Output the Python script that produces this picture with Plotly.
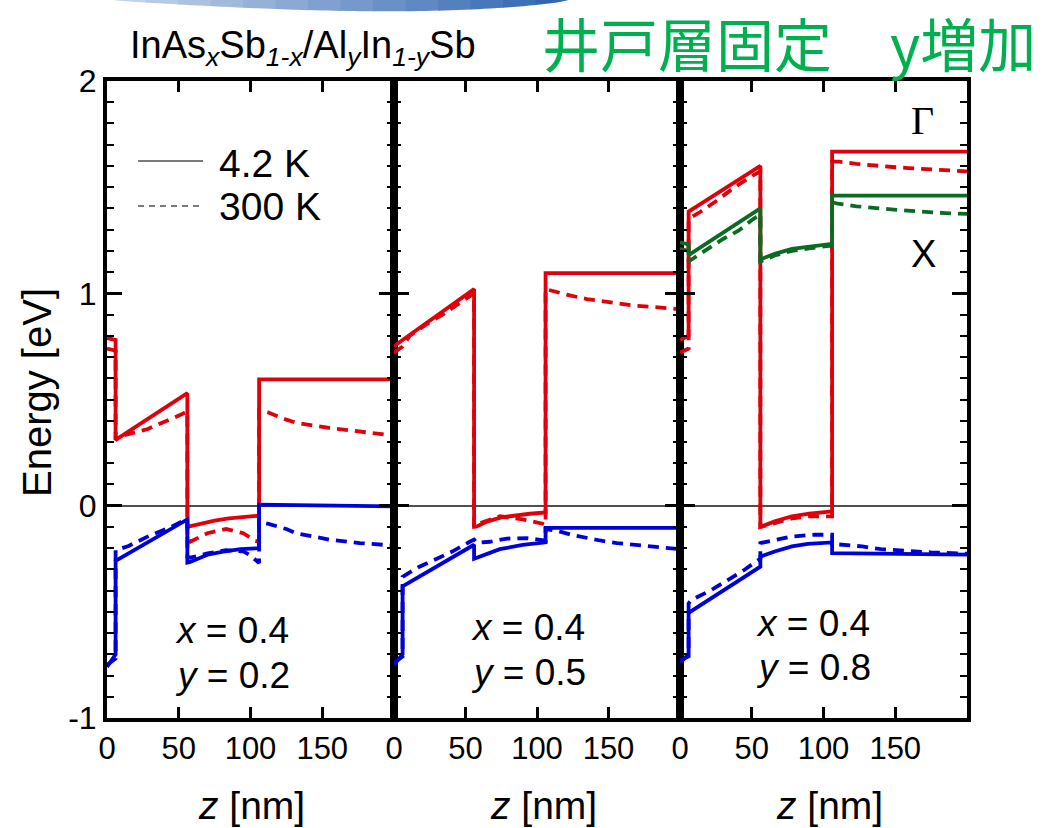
import math
import plotly.graph_objects as go

# ---------------- data (z in nm, energy in eV) ----------------
panel_labels_x = ["0.4", "0.4", "0.4"]
panel_labels_y = ["0.2", "0.5", "0.8"]
x_tick_vals = [0, 50, 100, 150, 200]
x_tick_text = ["0", "50", "100", "150", ""]
y_tick_vals = [-1, 0, 1, 2]
y_tick_text = ["-1", "0", "1", "2"]

# panel 1 : y = 0.2
p1_cb_42_z = [0, 6, 6, 56, 56, 58, 65, 75, 85, 95, 106, 106, 200]
p1_cb_42_E = [0.79, 0.78, 0.31, 0.53, -0.10, -0.097, -0.085, -0.07, -0.06, -0.053, -0.047, 0.595, 0.595]
p1_cb_300_z = [0, 6, 6, 11, 28, 42, 52, 56, 56, 58, 70, 83, 95, 103, 106, 106, 112, 125, 132, 155, 176, 200]
p1_cb_300_E = [0.74, 0.73, 0.31, 0.33, 0.36, 0.40, 0.43, 0.445, -0.16, -0.17, -0.13, -0.11, -0.13, -0.165, -0.17,
               0.45, 0.44, 0.405, 0.39, 0.366, 0.35, 0.33]
p1_vb_42_z = [0, 6, 6, 56, 56, 58, 70, 81, 93, 105, 106, 106, 200]
p1_vb_42_E = [-0.76, -0.70, -0.26, -0.065, -0.268, -0.265, -0.231, -0.216, -0.205, -0.20, -0.20, 0.005, -0.003]
p1_vb_300_z = [0, 6, 6, 15, 30, 45, 56, 56, 58, 70, 83, 95, 100, 104, 106, 106, 112, 125, 132, 155, 176, 200]
p1_vb_300_E = [-0.75, -0.72, -0.21, -0.19, -0.14, -0.10, -0.06, -0.24, -0.245, -0.225, -0.21, -0.215, -0.235, -0.26,
               -0.27, -0.08, -0.085, -0.11, -0.13, -0.16, -0.176, -0.188]

# panel 2 : y = 0.5
p2_cb_42_z = [0, 6, 56, 56, 58, 65, 75, 85, 95, 106, 106, 200]
p2_cb_42_E = [0.75, 0.78, 1.02, -0.10, -0.098, -0.075, -0.055, -0.045, -0.038, -0.032, 1.095, 1.095]
p2_cb_300_z = [0, 6, 11, 24, 34, 45, 54, 56, 56, 61, 74, 90, 104, 106, 106, 111, 123, 135, 146, 157, 168, 179, 200]
p2_cb_300_E = [0.72, 0.75, 0.80, 0.86, 0.90, 0.95, 0.995, 1.0, -0.10, -0.08, -0.05, -0.065, -0.085, -0.09,
               1.02, 1.01, 0.99, 0.973, 0.962, 0.953, 0.942, 0.937, 0.925]
p2_vb_42_z = [0, 6, 6, 56, 56, 58, 74, 90, 106, 106, 200]
p2_vb_42_E = [-0.75, -0.70, -0.38, -0.184, -0.25, -0.245, -0.205, -0.185, -0.173, -0.105, -0.105]
p2_vb_300_z = [0, 6, 6, 17, 30, 41, 53, 56, 58, 67, 79, 93, 101, 106, 106, 115, 124, 135, 144, 156, 167, 179, 200]
p2_vb_300_E = [-0.74, -0.71, -0.335, -0.29, -0.25, -0.215, -0.17, -0.16, -0.175, -0.17, -0.155, -0.153, -0.16,
               -0.165, -0.11, -0.12, -0.137, -0.153, -0.164, -0.176, -0.184, -0.192, -0.205]

# panel 3 : y = 0.8
p3_cb_42_z = [0, 6, 6, 56, 56, 57, 66, 78, 90, 106, 106, 200]
p3_cb_42_E = [0.78, 0.80, 1.385, 1.60, -0.10, -0.098, -0.074, -0.05, -0.038, -0.027, 1.667, 1.667]
p3_cb_300_z = [0, 6, 6, 14, 26, 38, 51, 56, 56, 66, 78, 90, 100, 106, 106, 111, 123, 136, 148, 159, 172, 185, 200]
p3_cb_300_E = [0.72, 0.74, 1.35, 1.383, 1.438, 1.50, 1.556, 1.575, -0.10, -0.08, -0.06, -0.05, -0.048, -0.05,
               1.62, 1.62, 1.61, 1.60, 1.595, 1.59, 1.584, 1.579, 1.574]
p3_xv_42_z = [0, 6, 6, 56, 56, 66, 78, 90, 106, 106, 200]
p3_xv_42_E = [1.24, 1.23, 1.18, 1.40, 1.16, 1.186, 1.209, 1.22, 1.233, 1.46, 1.46]
p3_xv_300_z = [0, 6, 6, 20, 30, 41, 51, 56, 56, 66, 78, 90, 106, 106, 110, 123, 136, 149, 161, 173, 185, 200]
p3_xv_300_E = [1.21, 1.20, 1.15, 1.209, 1.256, 1.296, 1.35, 1.37, 1.15, 1.178, 1.20, 1.212, 1.225,
               1.43, 1.422, 1.41, 1.40, 1.394, 1.388, 1.381, 1.378, 1.374]
p3_vb_42_z = [0, 6, 6, 56, 56, 66, 78, 89, 106, 106, 200]
p3_vb_42_E = [-0.74, -0.70, -0.505, -0.287, -0.24, -0.216, -0.192, -0.18, -0.173, -0.224, -0.231]
p3_vb_300_z = [0, 6, 6, 8, 22, 34, 45, 53, 56, 56, 66, 78, 94, 103, 106, 106, 114, 127, 140, 159, 175, 200]
p3_vb_300_E = [-0.73, -0.71, -0.46, -0.444, -0.397, -0.35, -0.302, -0.263, -0.25, -0.176, -0.16, -0.145, -0.137,
               -0.137, -0.137, -0.18, -0.184, -0.192, -0.205, -0.215, -0.22, -0.226]

# ---------------- style ----------------
W, H = 1062, 828
RED = "#E0000B"
BLUE = "#0000D8"
GREEN = "#0B6B22"
FONT = "Liberation Sans, Arial, sans-serif"
DASH = "11px,7px"
LW = 3.8


def px(x):
    return x / W


def py(y):
    return 1 - y / H


PANEL_X = [(107, 394), (394, 680), (680, 967)]
PANEL_TOP, PANEL_BOT = 81, 718

panels = [
    [(p1_cb_42_z, p1_cb_42_E, RED, "solid"), (p1_cb_300_z, p1_cb_300_E, RED, DASH),
     (p1_vb_42_z, p1_vb_42_E, BLUE, "solid"), (p1_vb_300_z, p1_vb_300_E, BLUE, DASH)],
    [(p2_cb_42_z, p2_cb_42_E, RED, "solid"), (p2_cb_300_z, p2_cb_300_E, RED, DASH),
     (p2_vb_42_z, p2_vb_42_E, BLUE, "solid"), (p2_vb_300_z, p2_vb_300_E, BLUE, DASH)],
    [(p3_cb_42_z, p3_cb_42_E, RED, "solid"), (p3_cb_300_z, p3_cb_300_E, RED, DASH),
     (p3_xv_42_z, p3_xv_42_E, GREEN, "solid"), (p3_xv_300_z, p3_xv_300_E, GREEN, DASH),
     (p3_vb_42_z, p3_vb_42_E, BLUE, "solid"), (p3_vb_300_z, p3_vb_300_E, BLUE, DASH)],
]

fig = go.Figure()
for i, curves in enumerate(panels):
    suffix = "" if i == 0 else str(i + 1)
    for z, e, col, dash in curves:
        fig.add_trace(go.Scatter(x=z, y=e, mode="lines", xaxis="x" + suffix, yaxis="y" + suffix,
                                 line=dict(color=col, width=LW, dash=dash), showlegend=False,
                                 hoverinfo="skip"))

layout = dict(width=W, height=H, autosize=False, template="none",
              margin=dict(l=0, r=0, t=0, b=0, pad=0, autoexpand=False), paper_bgcolor="white",
              plot_bgcolor="white", showlegend=False, font=dict(family=FONT, color="black"))
for i, (x0, x1) in enumerate(PANEL_X):
    suffix = "" if i == 0 else str(i + 1)
    layout["xaxis" + suffix] = dict(
        domain=[px(x0), px(x1)], anchor="y" + suffix, range=[0, 200], automargin=False,
        tickmode="array", tickvals=x_tick_vals, ticktext=x_tick_text,
        ticks="inside", ticklen=11, tickwidth=2.5, tickcolor="black",
        showline=True, linewidth=4, linecolor="black", mirror="ticks",
        showgrid=False, zeroline=False, tickfont=dict(size=31, family=FONT, color="black"))
    layout["yaxis" + suffix] = dict(
        domain=[py(PANEL_BOT), py(PANEL_TOP)], anchor="x" + suffix, range=[-1, 2], automargin=False,
        tickmode="array", tickvals=y_tick_vals, ticktext=y_tick_text,
        ticks="inside", ticklen=15, tickwidth=2.5, tickcolor="black",
        minor=dict(tickmode="linear", tick0=0, dtick=0.1, ticks="inside", ticklen=7,
                   tickwidth=2, tickcolor="black"),
        showline=True, linewidth=4, linecolor="black", mirror="ticks",
        showgrid=False, zeroline=True, zerolinecolor="#505050", zerolinewidth=1.5,
        showticklabels=(i == 0), tickfont=dict(size=32, family=FONT, color="black"))


def note(x, y, text, size, xanchor="center", family=FONT, color="black", angle=0):
    return dict(x=px(x), y=py(y), xref="paper", yref="paper", text=text, showarrow=False,
                xanchor=xanchor, yanchor="middle", textangle=angle,
                font=dict(size=size, family=family, color=color))


annotations = []
# axis titles
annotations.append(note(37, 393, "Energy [eV]", 40, angle=-90))
for cx in (251, 543, 829):
    annotations.append(note(cx, 805, "<i>z</i> [nm]", 39))
# panel labels
for cx, yx, yy, lx, ly in zip((232, 528, 813), (630, 627, 623), (675, 672, 667), panel_labels_x, panel_labels_y):
    annotations.append(note(cx, yx, "<i>x</i> = " + lx, 37))
    annotations.append(note(cx, yy, "<i>y</i> = " + ly, 37))
# Gamma / X
annotations.append(note(922, 121, "Γ", 40, family="Liberation Serif, Times New Roman, serif"))
annotations.append(note(923, 254, "X", 38))
# legend texts
annotations.append(note(217, 163, "4.2 K", 39, xanchor="left"))
annotations.append(note(217, 206, "300 K", 39, xanchor="left"))
# titles
annotations.append(note(303, 48,
                        "InAs<sub><i>x</i></sub>Sb<sub><i>1-x</i></sub>/Al<sub><i>y</i></sub>In<sub><i>1-y</i></sub>Sb",
                        38))
annotations.append(note(540, 42, "井戸層固定\u3000y増加", 58, xanchor="left",
                        family="Noto Sans CJK JP", color="#00B050"))
layout["annotations"] = annotations

shapes = [
    dict(type="line", xref="paper", yref="paper", x0=px(138), x1=px(203), y0=py(161), y1=py(161),
         line=dict(color="#7a7a7a", width=2)),
    dict(type="line", xref="paper", yref="paper", x0=px(138), x1=px(203), y0=py(206), y1=py(206),
         line=dict(color="#7a7a7a", width=2, dash="6px,5px")),
]

# decorative slide banner at the very top (light-to-dark blue swoosh)
BAN_X0, BAN_X1, BAN_DEPTH, NSLICE = 113, 568, 15, 14
c_left, c_right = (200, 214, 234), (45, 100, 175)


def depth(xx):
    s = (xx - BAN_X0) / (BAN_X1 - BAN_X0)
    s = min(max(s, 0.0), 1.0)
    return BAN_DEPTH * (math.sin(math.pi * s) ** 0.7) * (0.45 + 0.55 * s)


for k in range(NSLICE):
    xa = BAN_X0 + (BAN_X1 - BAN_X0) * k / NSLICE
    xb = BAN_X0 + (BAN_X1 - BAN_X0) * (k + 1) / NSLICE + 0.8
    t = (k + 0.5) / NSLICE
    col = "rgb(%d,%d,%d)" % tuple(round(a + (b - a) * t) for a, b in zip(c_left, c_right))
    pts = [(xa, 0)]
    for j in range(6):
        xx = xa + (xb - xa) * j / 5
        pts.append((xx, depth(xx)))
    pts.append((xb, 0))
    path = "M " + " L ".join(f"{px(a):.5f},{py(b):.5f}" for a, b in pts) + " Z"
    shapes.append(dict(type="path", xref="paper", yref="paper", layer="above", path=path,
                       fillcolor=col, line=dict(width=0)))
layout["shapes"] = shapes

fig.update_layout(**layout)
fig.write_html("out.html")
